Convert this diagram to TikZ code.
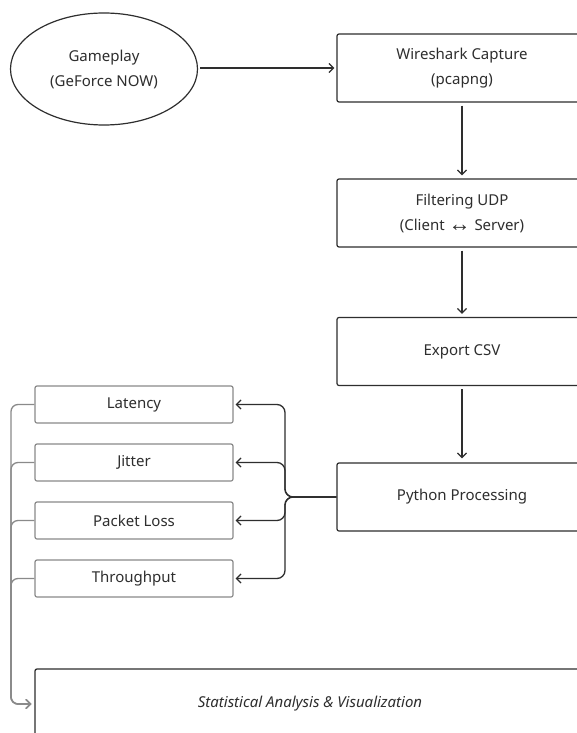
\documentclass[tikz,border=0pt]{standalone}
\usepackage{fontspec}
\setmainfont{Noto Sans}
\newfontfamily\arrowglyph{Liberation Sans}
\usetikzlibrary{arrows.meta,shapes.geometric}

\definecolor{ink}{HTML}{2E2E2E}
\definecolor{soft}{HTML}{8A8A8A}

\tikzset{
  every node/.style={text=ink, font=\fontsize{15}{25}\selectfont},
  stagebox/.style={draw=ink, line width=1.2pt, rounded corners=2pt,
    minimum width=250pt, minimum height=68pt, inner sep=0pt, align=center},
  metricbox/.style={draw=soft, line width=1.2pt, rounded corners=2pt,
    minimum width=198pt, minimum height=37pt, inner sep=0pt},
  sourceoval/.style={draw=ink, line width=1.2pt, ellipse,
    minimum width=187pt, minimum height=112pt, inner sep=0pt, align=center},
  flow/.style={draw=ink, line width=1.3pt,
    -{Straight Barb[length=4.5pt,width=9pt,line width=1.3pt]}},
  fanout/.style={flow, rounded corners=8pt, shorten >=2pt},
  collect/.style={draw=soft, line width=1.3pt, rounded corners=7pt,
    -{Straight Barb[length=4.5pt,width=9pt,line width=1.3pt]}, shorten >=3pt},
}

\begin{document}
\begin{tikzpicture}[x=1pt,y=-1pt]
  \useasboundingbox (0,0) rectangle (577,733);
  \fill[white] (0,0) rectangle (577,733);
  \clip (0,0) rectangle (577,733);

  % capture pipeline
  \node[sourceoval] (game) at (104,69) {Gameplay\\(GeForce NOW)};
  \node[stagebox] (wire) at (462,68) {Wireshark Capture\\(pcapng)};
  \node[stagebox] (filt) at (462,213)
    {Filtering UDP\\(Client {\arrowglyph\fontsize{22}{25}\selectfont\raisebox{-1pt}{↔}} Server)};
  \node[stagebox] (csv)  at (462,351.5) {Export CSV};
  \node[stagebox] (py)   at (462,497) {Python Processing};

  % metrics
  \node[metricbox] (lat) at (134,404.5) {Latency};
  \node[metricbox] (jit) at (134,462.5) {Jitter};
  \node[metricbox] (loss) at (134,520.5) {Packet Loss};
  \node[metricbox] (thr) at (134,578.5) {Throughput};

  % final stage
  \node[draw=ink, line width=1.3pt, rounded corners=2pt, minimum width=550pt,
        minimum height=70pt, inner sep=0pt] (stat) at (310,704)
        {\itshape Statistical Analysis \& Visualization};

  % helper points for the fan-out and the collecting rail
  \coordinate (fork) at (285,497);
  \coordinate (rail) at (11,404.5);

  % main flow
  \draw[flow, shorten <=2pt, shorten >=2pt] (game.east |- wire.west) -- (wire.west);
  \draw[flow, shorten <=3pt, shorten >=3pt] (wire.south) -- (filt.north);
  \draw[flow, shorten <=3pt, shorten >=3pt] (filt.south) -- (csv.north);
  \draw[flow, shorten <=3pt, shorten >=4pt] (csv.south) -- (py.north);

  % processing fans out to each metric
  \foreach \m in {lat,jit,loss,thr}
    \draw[fanout] (py.west) -- (fork) |- (\m.east);

  % metrics gathered into the analysis stage
  \foreach \m in {lat,jit,loss,thr}
    \draw[collect] (\m.west) -- (\m.west -| rail) |- (stat.west);
\end{tikzpicture}
\end{document}
